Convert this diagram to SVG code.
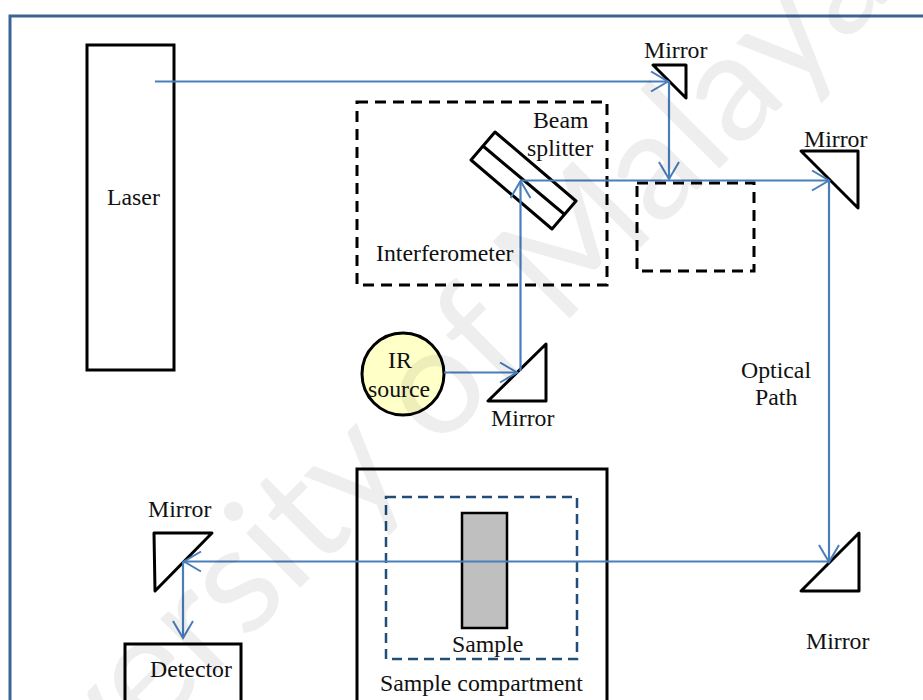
<svg xmlns="http://www.w3.org/2000/svg" width="923" height="700" viewBox="0 0 923 700">
<defs>
<marker id="a" markerUnits="userSpaceOnUse" markerWidth="24" markerHeight="24" refX="18" refY="11" orient="auto"><path d="M1 1 L18 11 L1 21" fill="none" stroke="#4a7ebb" stroke-width="2"/></marker>
</defs>
<style>
text{font-family:"Liberation Serif","Times New Roman",serif;font-size:23.800px;fill:#111}
text.wm{font-family:Lato,"Liberation Sans",sans-serif;font-size:152px;fill:#000;fill-opacity:.065}
.n{fill:none;stroke:#000;stroke-width:3}
.d{fill:none;stroke:#000;stroke-width:3;stroke-dasharray:11 7}
.b{fill:none;stroke:#4a7ebb;stroke-width:2.200}
.t{fill:none;stroke:#000;stroke-width:3;stroke-linejoin:round}
</style>
<rect width="923" height="700" fill="#fff"/>
<rect x="10" y="16" width="930" height="700" fill="none" stroke="#3b6496" stroke-width="3"/>
<g id="laser"><rect class="n" x="87" y="45" width="87" height="325"/><text x="107" y="205">Laser</text></g>
<g id="interferometer"><rect class="d" x="357" y="102" width="250" height="183"/><text x="376" y="261">Interferometer</text></g>
<g id="beam-splitter"><path class="t" d="M495 132 L576 201 L552 229 L471 160 Z"/><path class="t" d="M483 146 L564 214"/><text x="533" y="128">Beam</text><text x="527" y="156">splitter</text></g>
<g id="delay-box"><rect class="d" x="637" y="183" width="117" height="88"/></g>
<g id="mirror-top"><path class="t" d="M653 65 L686 65 L686 98 Z"/><text x="644" y="58">Mirror</text></g>
<g id="mirror-right"><path class="t" d="M801 151 L858 151 L858 208 Z"/><text x="804" y="147">Mirror</text></g>
<g id="ir-source"><circle cx="403" cy="374" r="41" fill="#ffffc8" stroke="#000" stroke-width="3"/><text x="388" y="368">IR</text><text x="368" y="397">source</text></g>
<g id="mirror-source"><path class="t" d="M488 401 L546 401 L546 344 Z"/><text x="491" y="426">Mirror</text></g>
<g id="sample-compartment"><rect class="n" x="357" y="469" width="250" height="240"/><rect x="386" y="497" width="191" height="162" fill="none" stroke="#1f4e79" stroke-width="2.5" stroke-dasharray="10 6"/><text x="380" y="691">Sample compartment</text></g>
<g id="sample"><rect x="462" y="513" width="45" height="115" fill="#bfbfbf" stroke="#000" stroke-width="2.5"/><text x="452" y="652">Sample</text></g>
<g id="mirror-bottom-right"><path class="t" d="M801 591 L859 591 L859 533 Z"/><text x="806" y="649">Mirror</text></g>
<g id="mirror-left"><path class="t" d="M154 533 L212 533 L155 591 Z"/><text x="148" y="517">Mirror</text></g>
<g id="detector"><rect class="n" x="125" y="644" width="116" height="70"/><text x="150" y="677">Detector</text></g>
<g id="optical-path-label"><text x="741" y="378">Optical</text><text x="755" y="405">Path</text></g>
<g id="connectors">
<path class="b" d="M155 81.500 H668" marker-end="url(#a)"/>
<path class="b" d="M669 82 V179" marker-end="url(#a)"/>
<path class="b" d="M521 180.500 H829" marker-end="url(#a)"/>
<path class="b" d="M829 181 V562" marker-end="url(#a)"/>
<path class="b" d="M829 561.500 H184" marker-end="url(#a)"/>
<path class="b" d="M183 562 V638" marker-end="url(#a)"/>
<path class="b" d="M444 372.500 H517" marker-end="url(#a)"/>
<path class="b" d="M520.500 371 V181" marker-end="url(#a)"/>
</g>
<text class="wm" transform="translate(-67 955) rotate(-45)">University of Malaya</text>
</svg>
